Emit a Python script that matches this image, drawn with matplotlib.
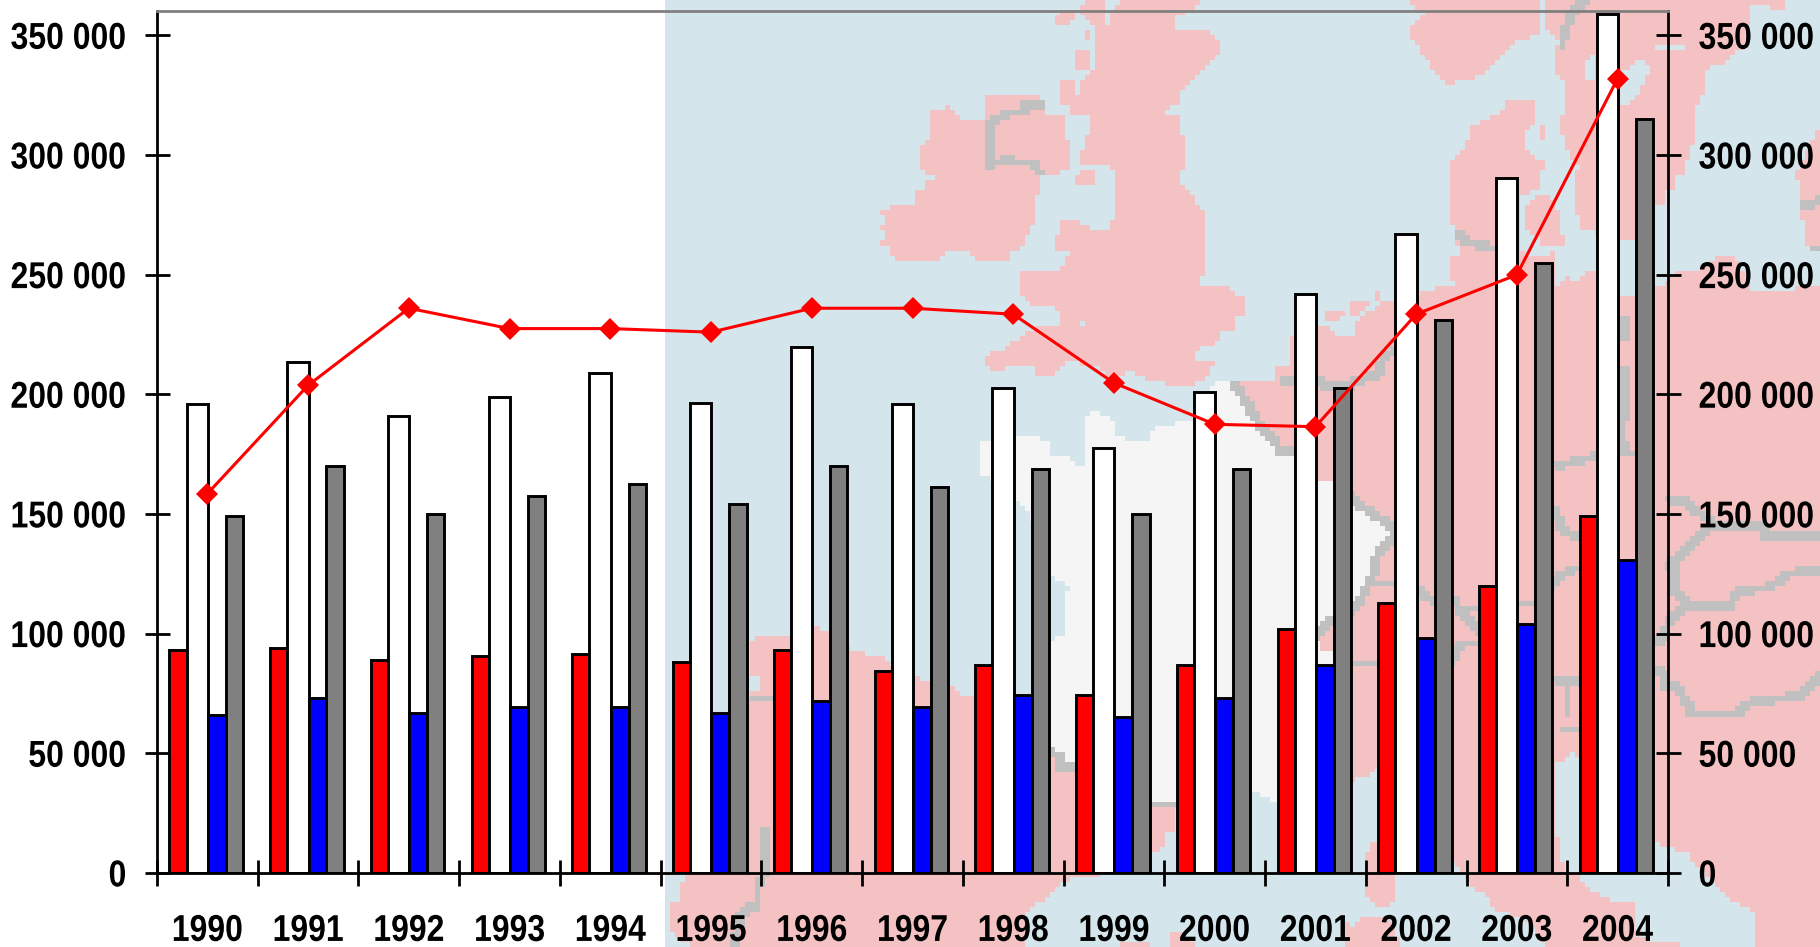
import matplotlib
matplotlib.use("Agg")
import numpy as np
import matplotlib.pyplot as plt
from matplotlib.patches import Polygon, Rectangle
from matplotlib.patheffects import AbstractPathEffect
from matplotlib.transforms import Affine2D

years = [1990, 1991, 1992, 1993, 1994, 1995, 1996, 1997, 1998, 1999, 2000, 2001, 2002, 2003, 2004]
red_vals = [93000, 94000, 89000, 90500, 91500, 88000, 93000, 84500, 87000, 74500, 87000, 102000, 113000, 120000, 149000]
white_vals = [196000, 213500, 191000, 199000, 209000, 196500, 220000, 196000, 202500, 177500, 201000, 242000, 267000, 290500, 359000]
blue_vals = [66000, 73000, 67000, 69500, 69500, 67000, 72000, 69500, 74500, 65000, 73000, 87000, 98000, 104000, 131000]
gray_vals = [149000, 170000, 150000, 157500, 162500, 154000, 170000, 161500, 169000, 150000, 169000, 202500, 231000, 255000, 315000]
line_vals = [158500, 203800, 236000, 227500, 227500, 226000, 236000, 236000, 233500, 204800, 187500, 186500, 233500, 250000, 332000]
y_ticks = [0, 50000, 100000, 150000, 200000, 250000, 300000, 350000]

SEA = "#D4E6EC"
LAND = "#F4C2C2"
FRANCE = "#F5F5F5"
BORDER = "#C0C0C0"


def crop(x0, y0, pts):
    return [(x0 + x / 2.613, y0 + y / 3) for x, y in pts]


ireland = crop(640, 0, [(640, 650), (665, 630), (727, 630), (727, 590), (750, 590), (750, 560), (777, 560), (777, 520), (750, 520), (740, 490), (740, 450), (762, 435), (762, 350), (800, 335), (835, 365), (835, 378), (908, 378), (908, 310), (922, 295), (1043, 295), (1043, 350), (1105, 365), (1105, 435), (1116, 435), (1116, 505), (1092, 518), (1043, 518), (1043, 560), (1030, 580), (1030, 630), (1018, 670), (1005, 700), (995, 740), (970, 745), (958, 780), (908, 782), (873, 770), (873, 755), (787, 755), (775, 782), (690, 782), (665, 770), (665, 740), (640, 730), (660, 700), (640, 695), (660, 680)])
britain = crop(640, 0, [(1275, 0), (1460, 0), (1420, 40), (1385, 40), (1385, 85), (1360, 98), (1455, 98), (1480, 110), (1508, 140), (1508, 165), (1480, 195), (1455, 225), (1435, 240), (1405, 278), (1370, 278), (1398, 295), (1398, 320), (1360, 322), (1360, 350), (1408, 365), (1408, 420), (1422, 420), (1422, 505), (1408, 505), (1408, 572), (1422, 575), (1445, 600), (1445, 630), (1458, 630), (1470, 658), (1470, 825), (1458, 825), (1458, 867), (1530, 867), (1545, 885), (1568, 905), (1568, 950), (1555, 950), (1545, 990), (1510, 995), (1508, 1020), (1470, 1035), (1445, 1050), (1445, 1090), (1495, 1092), (1480, 1115), (1435, 1160), (1400, 1160), (1360, 1135), (1310, 1130), (1300, 1107), (1260, 1107), (1260, 1130), (1230, 1130), (1200, 1090), (1105, 1080), (1078, 1118), (1045, 1118), (1030, 1090), (945, 1090), (945, 1105), (920, 1105), (908, 1080), (925, 1065), (958, 1065), (970, 1035), (1000, 1035), (1020, 1005), (1070, 985), (1115, 980), (1130, 990), (1165, 990), (1190, 968), (1150, 965), (1130, 980), (1105, 950), (1092, 910), (1030, 908), (995, 865), (1005, 825), (1092, 825), (1115, 810), (1130, 755), (1092, 755), (1092, 730), (1130, 700), (1105, 698), (1105, 672), (1140, 672), (1140, 695), (1225, 698), (1240, 712), (1240, 672), (1252, 672), (1252, 620), (1275, 600), (1262, 590), (1250, 600), (1250, 505), (1190, 490), (1165, 490), (1150, 465), (1165, 460), (1165, 420), (1180, 420), (1180, 365), (1200, 350), (1200, 320), (1190, 335), (1130, 350), (1130, 310), (1152, 305), (1152, 255), (1180, 240), (1200, 210), (1200, 180), (1190, 150), (1200, 100), (1240, 85), (1240, 45), (1275, 10)])
isles = [
    crop(640, 0, [(1152, 155), (1180, 155), (1180, 210), (1142, 210)]),
    crop(640, 0, [(1105, 250), (1130, 250), (1130, 285), (1115, 308), (1105, 308)]),
    crop(640, 0, [(1155, 530), (1178, 520), (1178, 560), (1142, 560), (1142, 535)]),
    crop(640, 0, [(1150, 30), (1180, 15), (1215, 15), (1215, 98), (1198, 98), (1180, 60)]),
    crop(640, 0, [(1078, 55), (1092, 55), (1092, 82), (1078, 82)]),
    crop(640, 0, [(1105, 40), (1130, 40), (1115, 68), (1105, 68)]),
    crop(640, 0, [(1165, 98), (1178, 98), (1178, 125), (1165, 125)]),
    crop(1220, 0, [(810, 630), (830, 605), (860, 605), (880, 650), (880, 710), (895, 715), (885, 738), (857, 740), (830, 700), (810, 690)]),
    crop(1220, 0, [(832, 378), (843, 378), (843, 420), (832, 420)]),
    crop(1220, 0, [(895, 825), (917, 825), (917, 840), (895, 840)]),
    crop(1220, 0, [(895, 740), (905, 740), (905, 770), (895, 770)]),
    crop(1220, 0, [(405, 880), (417, 880), (417, 910), (405, 910)]),
    crop(1220, 0, [(355, 910), (380, 910), (370, 935), (345, 938)]),
    crop(1220, 0, [(282, 940), (318, 940), (295, 965), (282, 965)]),
    crop(1220, 470, [(385, 1210), (395, 1125), (455, 1125), (455, 1285), (420, 1305), (390, 1270)]),
    crop(1220, 470, [(330, 1370), (350, 1380), (380, 1350), (440, 1350), (465, 1431), (330, 1431)]),
    crop(640, 470, [(1390, 1431), (1390, 1405), (1415, 1390), (1445, 1431)]),
    crop(640, 470, [(1250, 1431), (1250, 1415), (1330, 1415), (1330, 1431)]),
]
mainland = crop(1220, 0, [(40, 1150), (150, 1150), (150, 1105), (185, 1105), (190, 1020), (250, 995), (270, 985), (295, 1020), (355, 1020), (370, 965), (445, 910), (510, 895), (590, 870), (640, 855), (612, 835), (612, 785), (630, 775), (625, 715), (602, 625), (602, 545), (612, 505), (625, 478), (648, 460), (660, 395), (695, 378), (745, 350), (750, 320), (820, 310), (820, 360), (795, 395), (795, 465), (845, 505), (830, 520), (830, 560), (775, 595), (775, 760), (810, 780), (870, 770), (870, 865), (950, 850), (955, 825), (985, 830), (1040, 905), (1075, 895), (1135, 880), (1170, 865), (1200, 830), (1260, 820), (1320, 775), (1340, 785), (1380, 880), (1480, 880), (1568, 870)]) + crop(1220, 470, [(1568, 1431), (1405, 1431), (1405, 1320), (1350, 1290), (1300, 1240), (1225, 1140), (1170, 1125), (1135, 1095), (1085, 1000), (935, 845), (905, 845), (885, 870), (870, 815), (862, 1000), (870, 1065), (880, 1140), (895, 1210), (930, 1220), (935, 1245), (970, 1270), (1005, 1295), (1075, 1305), (1075, 1400), (1130, 1420), (1190, 1431), (870, 1431), (800, 1340), (720, 1310), (700, 1265), (660, 1240), (640, 1200), (605, 1150), (575, 1000), (555, 880), (405, 885), (370, 915), (340, 925), (150, 985), (150, 850), (0, 850)])
sweden = crop(1220, 0, [(855, 0), (855, 30), (860, 90), (895, 125), (880, 170), (880, 220), (905, 240), (905, 345), (895, 380), (905, 420), (918, 470), (945, 505), (930, 545), (930, 610), (955, 690), (1085, 720), (1135, 615), (1160, 615), (1160, 570), (1185, 570), (1185, 530), (1200, 525), (1235, 420), (1235, 320), (1260, 280), (1260, 210), (1330, 180), (1335, 150), (1365, 140), (1380, 15), (1385, 15), (1430, 15), (1450, 28), (1468, 28), (1468, 0)])
norway = crop(1220, 0, [(500, 0), (830, 0), (830, 95), (760, 130), (710, 185), (700, 210), (650, 240), (600, 248), (565, 220), (560, 195), (540, 170), (530, 140), (505, 120), (500, 100), (520, 70), (550, 50)])
baltics = crop(1220, 0, [(1568, 395), (1515, 530), (1525, 610), (1530, 690), (1540, 740), (1568, 740)])
lakes = [
    crop(1220, 0, [(1100, 195), (1112, 215), (1090, 280), (1055, 320), (1040, 240)]),
    crop(1220, 0, [(1040, 110), (1050, 110), (1050, 150), (1040, 150)]),
    crop(1220, 0, [(1135, 140), (1210, 140), (1210, 150), (1135, 150)]),
    crop(1220, 0, [(955, 210), (975, 185), (970, 235), (955, 235)]),
]
spain = crop(640, 470, [(288, 545), (300, 520), (325, 508), (390, 508), (450, 480), (485, 495), (545, 548), (565, 560), (630, 565), (640, 590), (715, 632), (755, 650), (760, 670), (810, 665), (835, 675), (838, 690), (975, 680), (1020, 690), (1075, 845), (1095, 860), (1095, 895), (1135, 890), (1336, 1000), (1395, 1010), (1395, 1065), (1370, 1085), (1370, 1125), (1336, 1135), (1240, 1200), (1130, 1215), (1080, 1240), (1060, 1275), (1020, 1305), (1005, 1320), (1005, 1431), (150, 1431), (100, 1385), (80, 1380), (90, 1305), (105, 1305), (105, 1270), (120, 1240), (130, 1215), (230, 750), (280, 690), (310, 670), (325, 665), (325, 625), (310, 610), (288, 605)])
france = crop(640, 0, [(895, 1335), (980, 1330), (1010, 1318), (1068, 1335), (1068, 1375), (1115, 1385), (1130, 1410), (1165, 1412), (1165, 1260), (1190, 1245), (1225, 1265), (1240, 1290), (1225, 1300), (1260, 1328), (1345, 1330), (1345, 1305), (1375, 1285), (1447, 1275), (1505, 1165)]) + crop(1220, 0, [(0, 1160), (40, 1160), (60, 1190), (95, 1260), (130, 1310), (160, 1355), (195, 1355)]) + crop(1220, 470, [(250, 45), (288, 45), (345, 100), (390, 135), (445, 170), (450, 200), (420, 240), (400, 310), (385, 350), (345, 425), (290, 455), (250, 505), (250, 550), (288, 560), (288, 590), (150, 985), (120, 970), (85, 955)]) + crop(640, 470, [(1400, 1000), (1336, 1000), (1135, 890), (1095, 890), (1095, 860), (1075, 845), (1075, 520), (1130, 505), (1115, 480), (1115, 380), (1130, 380), (1130, 340), (1095, 325), (1075, 310), (1075, 240), (1018, 115), (1000, 90), (980, 85), (895, 0)])
borders = [
    crop(640, 0, [(1043, 325), (1005, 325), (1005, 345), (960, 345), (945, 358), (915, 375), (915, 497), (945, 495), (945, 480), (970, 490), (1030, 495), (1040, 515)]),
    crop(640, 470, [(287, 683), (340, 683)]),
    crop(640, 470, [(330, 1085), (325, 1215), (305, 1250), (305, 1305), (265, 1330), (245, 1431)]),
    crop(640, 470, [(1075, 845), (1095, 860), (1095, 890), (1135, 890)]),
    crop(640, 470, [(1336, 1003), (1400, 1003)]),
    crop(1220, 0, [(40, 1165), (60, 1190), (95, 1260), (130, 1310), (160, 1355), (195, 1355)]),
    crop(1220, 0, [(165, 1150), (255, 1140), (285, 1165), (345, 1160), (355, 1145), (415, 1125), (430, 1075), (450, 1060)]),
    crop(1220, 0, [(625, 715), (650, 730), (710, 750)]),
    crop(1220, 0, [(1045, 965), (1060, 970), (1060, 1020), (1045, 1020)]),
    crop(1220, 0, [(1045, 1110), (1060, 1120), (1060, 1240), (1045, 1270), (1060, 1365), (1075, 1365)]),
    crop(1220, 0, [(895, 150), (895, 120), (915, 55), (960, 0)]),
    crop(1220, 0, [(1530, 620), (1568, 610)]),
    crop(1220, 0, [(1540, 735), (1568, 735)]),
    crop(1220, 0, [(880, 1400), (975, 1375), (980, 1370)]),
    crop(1220, 470, [(345, 85), (390, 130), (445, 165), (455, 205), (415, 245), (400, 320), (385, 355), (345, 430), (290, 455), (250, 505)]),
    crop(1220, 470, [(400, 340), (455, 340)]),
    crop(1220, 470, [(510, 360), (550, 390)]),
    crop(1220, 470, [(610, 395), (625, 420), (670, 480)]),
    crop(1220, 470, [(610, 415), (670, 415)]),
    crop(1220, 470, [(340, 570), (405, 570)]),
    crop(1220, 470, [(610, 570), (625, 525), (670, 525)]),
    crop(1220, 470, [(770, 400), (820, 400)]),
    crop(1220, 470, [(870, 120), (900, 190), (925, 200)]),
    crop(1220, 470, [(870, 350), (885, 320), (930, 300)]),
    crop(1220, 470, [(1170, 90), (1215, 95), (1290, 170), (1415, 170), (1430, 205), (1568, 205)]),
    crop(1220, 470, [(1175, 285), (1190, 300), (1190, 370), (1215, 390), (1220, 410), (1335, 415), (1350, 370), (1430, 355), (1490, 315), (1568, 300)]),
    crop(1220, 470, [(1175, 285), (1235, 225), (1260, 190), (1290, 170)]),
    crop(1220, 470, [(1220, 410), (1175, 450), (1160, 510), (1140, 520)]),
    crop(1220, 470, [(1135, 610), (1160, 610), (1165, 650), (1195, 650), (1235, 735), (1350, 735), (1390, 700), (1520, 680), (1568, 620)]),
    crop(1220, 470, [(870, 630), (930, 635)]),
    crop(1220, 470, [(900, 640), (900, 730)]),
    crop(1220, 470, [(885, 765), (930, 765)]),
]


# no narrow bold font is installed: use a smaller size and stretch the glyphs upward
class Tall(AbstractPathEffect):
    def __init__(self, sy):
        super().__init__()
        self.sy = sy

    def draw_path(self, renderer, gc, tpath, affine, rgbFace=None):
        ext = tpath.get_extents()
        y0 = ext.y0 + ext.height / 2
        stretch = Affine2D().translate(0, -y0).scale(1, self.sy).translate(0, y0)
        renderer.draw_path(gc, tpath, stretch + affine, rgbFace)


def blocky_map():
    # drawn small without smoothing, then blown up, the map is coarse pixels in the original
    small = plt.figure(figsize=(3.64, 1.894), dpi=100)
    m = small.add_axes([0, 0, 1, 1])
    m.set_xlim(0, 1820)
    m.set_ylim(947, 0)
    m.axis("off")
    m.add_patch(Rectangle((665, 0), 1155, 947, color=SEA, lw=0, antialiased=False))
    for pts in [ireland, britain, mainland, sweden, norway, baltics, spain] + isles:
        m.add_patch(Polygon(pts, closed=True, color=LAND, lw=0, antialiased=False))
    for pts in lakes:
        m.add_patch(Polygon(pts, closed=True, color=SEA, lw=0, antialiased=False))
    m.add_patch(Polygon(france, closed=True, color=FRANCE, lw=0, antialiased=False))
    for pts in borders:
        m.plot([p[0] for p in pts], [p[1] for p in pts], color=BORDER, lw=0.45, antialiased=False)
    small.canvas.draw()
    arr = np.asarray(small.canvas.buffer_rgba()).copy()
    plt.close(small)
    return arr


plt.rcParams["font.family"] = ["Liberation Sans", "DejaVu Sans"]

fig = plt.figure(figsize=(18.2, 9.47), dpi=100)

bg = fig.add_axes([0, 0, 1, 1])
bg.imshow(blocky_map(), extent=(0, 1820, 947, 0), interpolation="nearest", aspect="auto")
bg.axis("off")

ax = fig.add_axes([157 / 1820, (947 - 873) / 947, (1668 - 157) / 1820, (873 - 11.5) / 947])
ax.patch.set_alpha(0)

pos = list(range(len(years)))
# bar edges around each year's centre, the white one is a bit wider
edges = [-0.376, -0.207, 0.004, 0.182, 0.353]
style = dict(align="edge", edgecolor="black", linewidth=2.1, zorder=2)
ax.bar([p + edges[0] for p in pos], red_vals, edges[1] - edges[0], color="#FF0000", **style)
ax.bar([p + edges[1] for p in pos], white_vals, edges[2] - edges[1], color="white", **style)
ax.bar([p + edges[2] for p in pos], blue_vals, edges[3] - edges[2], color="#0000FF", **style)
ax.bar([p + edges[3] for p in pos], gray_vals, edges[4] - edges[3], color="#808080", **style)
ax.plot(pos, line_vals, color="#FF0000", lw=2.2, marker="D", ms=11.5, mew=0, zorder=3, clip_on=False)

ax.set_xlim(-0.5, len(years) - 0.5)
ax.set_ylim(0, 360000)
ax.set_yticks(y_ticks)
ax.set_yticklabels([f"{v:,}".replace(",", " ") for v in y_ticks], fontsize=23, fontweight="bold")
ax.set_xticks([p - 0.5 for p in pos] + [len(years) - 0.5])
ax.set_xticklabels([])
ax.set_xticks(pos, minor=True)
ax.set_xticklabels([str(y) for y in years], minor=True, fontsize=23, fontweight="bold")
ax.tick_params(axis="y", which="major", direction="inout", length=18, width=2, left=True, right=True, labelleft=True, labelright=True, pad=13)
ax.tick_params(axis="x", which="major", direction="inout", length=19, width=2)
ax.tick_params(axis="x", which="minor", length=0, pad=31)

for side in ["left", "right", "bottom"]:
    ax.spines[side].set_linewidth(2)
ax.spines["top"].set_color("#808080")
ax.spines["top"].set_linewidth(2)

for tick in ax.yaxis.get_major_ticks():
    tick.label1.set_path_effects([Tall(1.17)])
    tick.label2.set_path_effects([Tall(1.17)])
for t in ax.xaxis.get_ticklabels(minor=True):
    t.set_path_effects([Tall(1.17)])

fig.savefig("out.png", dpi=100)
